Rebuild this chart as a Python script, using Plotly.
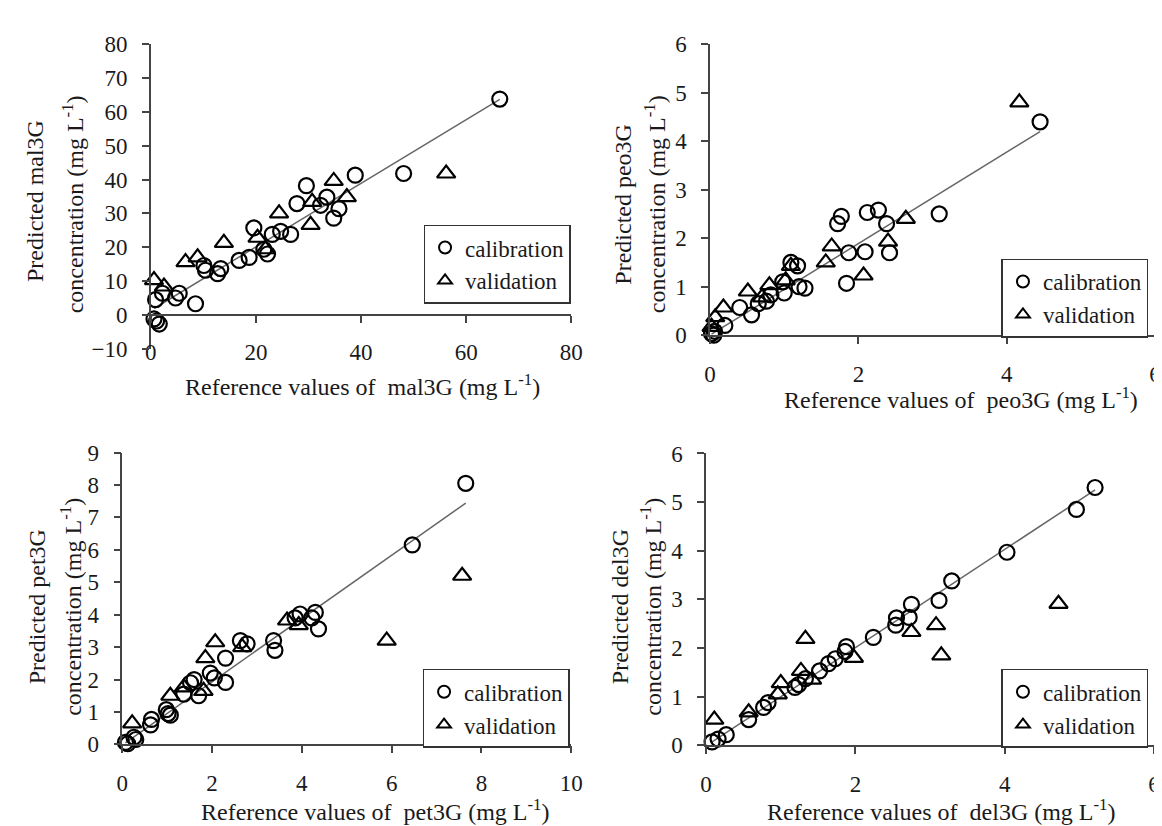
import plotly.graph_objects as go

# ---------------- data ----------------
# Panel 1: mal3G
mal_cal_x = [0.6, 1.6, 1.1, 0.9, 2.2, 4.7, 5.4, 8.5, 10.1, 10.4, 12.7, 13.3, 16.8, 18.7, 19.6, 21.5, 22.2,
             23.1, 24.7, 26.6, 27.8, 29.6, 32.3, 33.5, 35.8, 34.8, 38.9, 48.1, 66.4]
mal_cal_y = [-1.2, -2.7, -1.8, 4.5, 6.4, 5.0, 6.4, 3.3, 14.6, 13.2, 12.2, 13.7, 16.1, 17.0, 25.7, 19.4, 18.0,
             23.8, 24.7, 23.8, 32.9, 38.2, 32.4, 34.8, 31.4, 28.6, 41.3, 41.8, 63.8]
mal_val_x = [0.6, 2.5, 6.6, 8.9, 13.9, 20.3, 21.8, 24.4, 30.4, 30.7, 34.8, 37.3, 56.2]
mal_val_y = [10.3, 8.4, 15.6, 17.0, 21.3, 22.8, 19.4, 30.0, 26.6, 33.4, 39.6, 34.8, 41.8]
mal_fit_x = [0.6, 66.4]
mal_fit_y = [1.9, 63.7]

# Panel 2: peo3G
peo_cal_x = [0.02, 0.05, 0.06, 0.2, 0.4, 0.56, 0.65, 0.76, 0.82, 0.98, 1.0, 1.09, 1.18, 1.2, 1.28,
             1.72, 1.77, 1.84, 1.87, 2.09, 2.12, 2.27, 2.38, 2.42, 3.09, 4.45]
peo_cal_y = [0.03, 0.0, 0.08, 0.2, 0.57, 0.42, 0.65, 0.7, 0.83, 1.1, 0.87, 1.5, 1.43, 1.0, 0.97,
             2.3, 2.45, 1.07, 1.7, 1.72, 2.53, 2.58, 2.3, 1.7, 2.5, 4.4]
peo_val_x = [0.02, 0.07, 0.18, 0.51, 0.7, 0.8, 1.02, 1.09, 1.56, 1.64, 2.07, 2.4, 2.64, 4.17]
peo_val_y = [0.17, 0.37, 0.57, 0.9, 0.78, 1.03, 1.13, 1.43, 1.5, 1.83, 1.23, 1.93, 2.4, 4.8]
peo_fit_x = [0.02, 4.45]
peo_fit_y = [0.02, 4.2]

# Panel 3: pet3G
pet_cal_x = [0.07, 0.12, 0.26, 0.3, 0.63, 0.65, 0.98, 1.02, 1.07, 1.37, 1.52, 1.6, 1.7, 1.96, 2.05, 2.3, 2.3,
             2.63, 2.78, 3.37, 3.4, 3.85, 3.96, 4.22, 4.3, 4.37, 6.46, 7.65]
pet_cal_y = [0.06, 0.02, 0.22, 0.15, 0.6, 0.77, 1.07, 0.95, 0.9, 1.55, 1.9, 2.0, 1.5, 2.2, 2.05, 2.66, 1.91,
             3.2, 3.1, 3.2, 2.9, 3.9, 4.02, 3.9, 4.07, 3.56, 6.15, 8.05]
pet_val_x = [0.22, 1.07, 1.37, 1.81, 1.85, 2.07, 2.67, 3.67, 3.93, 5.89, 7.57]
pet_val_y = [0.65, 1.5, 1.76, 1.65, 2.66, 3.15, 3.0, 3.82, 3.68, 3.2, 5.2]
pet_fit_x = [0.07, 7.65]
pet_fit_y = [0.05, 7.44]

# Panel 4: del3G
del_cal_x = [0.08, 0.16, 0.27, 0.57, 0.77, 0.83, 1.19, 1.24, 1.33, 1.52, 1.64, 1.73, 1.86, 1.88, 2.24,
             2.54, 2.55, 2.72, 2.75, 3.12, 3.29, 4.03, 4.96, 5.21]
del_cal_y = [0.07, 0.13, 0.22, 0.53, 0.78, 0.88, 1.19, 1.25, 1.37, 1.53, 1.68, 1.78, 1.93, 2.03, 2.22,
             2.47, 2.62, 2.63, 2.9, 2.98, 3.38, 3.97, 4.85, 5.3]
del_val_x = [0.11, 0.57, 0.96, 1.0, 1.27, 1.33, 1.42, 1.98, 2.75, 3.08, 3.15, 4.72]
del_val_y = [0.53, 0.68, 1.05, 1.28, 1.53, 2.19, 1.35, 1.8, 2.33, 2.47, 1.85, 2.91]
del_fit_x = [0.08, 5.21]
del_fit_y = [0.07, 5.25]

compounds = ["mal3G", "peo3G", "pet3G", "del3G"]
x_ranges = [[0, 80], [0, 6], [0, 10], [0, 6]]
y_ranges = [[-10, 80], [0, 6], [0, 9], [0, 6]]
x_dticks = [20, 2, 2, 2]
y_dticks = [10, 1, 1, 1]
legend_labels = ["calibration", "validation"]

panels = [
    (mal_cal_x, mal_cal_y, mal_val_x, mal_val_y, mal_fit_x, mal_fit_y),
    (peo_cal_x, peo_cal_y, peo_val_x, peo_val_y, peo_fit_x, peo_fit_y),
    (pet_cal_x, pet_cal_y, pet_val_x, pet_val_y, pet_fit_x, pet_fit_y),
    (del_cal_x, del_cal_y, del_val_x, del_val_y, del_fit_x, del_fit_y),
]

# ---------------- layout geometry (pixels) ----------------
W, H = 1162, 826
# (left, right, top, bottom) of each plot area in pixels
boxes = [(139, 566, 25, 339), (707, 1159, 25, 325), (110, 566, 446, 747), (703, 1158, 447, 748)]
legend_pos = [(416, 211), (1003, 246), (415, 669), (1003, 669)]
ytitle1_pos = [(22, 187), (619, 190), (23, 605), (615, 605)]
ytitle2_pos = [(60, 190), (651, 190), (58, 605), (647, 605)]
xtitle_pos = [(354, 376), (962, 390), (367, 815), (942, 815)]

FONT = "Liberation Serif, Times New Roman, Times, serif"
TXT = "#1a1a1a"

fig = go.Figure()
layout = dict(
    width=W, height=H, margin=dict(l=0, r=0, t=0, b=0),
    paper_bgcolor="white", plot_bgcolor="white",
    font=dict(family=FONT, size=22, color=TXT),
    showlegend=True,
)
annotations = []

for i, (cx, cy, vx, vy, fx, fy) in enumerate(panels):
    n = "" if i == 0 else str(i + 1)
    xa, ya = "x" + n, "y" + n
    lg = "legend" + n
    l, r, t, b = boxes[i]
    dom_x = [l / W, r / W]
    dom_y = [1 - b / H, 1 - t / H]

    fig.add_trace(go.Scatter(x=fx, y=fy, mode="lines", xaxis=xa, yaxis=ya,
                             line=dict(color="#666666", width=1.5), showlegend=False,
                             cliponaxis=False, hoverinfo="skip"))
    fig.add_trace(go.Scatter(x=cx, y=cy, mode="markers", xaxis=xa, yaxis=ya, name=legend_labels[0],
                             legend=lg, cliponaxis=False,
                             marker=dict(symbol="circle-open", size=15, color="black",
                                         line=dict(width=2.2, color="black"))))
    fig.add_trace(go.Scatter(x=vx, y=vy, mode="markers", xaxis=xa, yaxis=ya, name=legend_labels[1],
                             legend=lg, cliponaxis=False,
                             marker=dict(symbol="triangle-up-open", size=16, color="black",
                                         line=dict(width=2.2, color="black"))))

    xr, yr = x_ranges[i], y_ranges[i]
    xaxis = dict(domain=dom_x, range=xr, dtick=x_dticks[i], tick0=0, showgrid=False, zeroline=False,
                 showline=True, linecolor="#444444", linewidth=1.5, ticks="outside", ticklen=7,
                 tickcolor="#444444", tickwidth=1.5, ticklabelstandoff=10,
                 tickfont=dict(family=FONT, size=23, color=TXT), fixedrange=True)
    if yr[0] < 0:
        # x axis crosses the y axis at y = 0
        frac = (0 - yr[0]) / (yr[1] - yr[0])
        xaxis.update(anchor="free", position=dom_y[0] + frac * (dom_y[1] - dom_y[0]))
    else:
        xaxis.update(anchor=ya)
    yaxis = dict(domain=dom_y, range=yr, dtick=y_dticks[i], tick0=0, showgrid=False, zeroline=False,
                 showline=True, linecolor="#444444", linewidth=1.5, ticks="outside", ticklen=7,
                 tickcolor="#444444", tickwidth=1.5, ticklabelstandoff=10, anchor=xa,
                 tickfont=dict(family=FONT, size=23, color=TXT), fixedrange=True)
    layout["xaxis" + n] = xaxis
    layout["yaxis" + n] = yaxis

    lx, ly = legend_pos[i]
    layout[lg] = dict(x=lx / W, y=1 - ly / H, xanchor="left", yanchor="top",
                      bordercolor="#333333", borderwidth=1.5, bgcolor="white",
                      font=dict(family=FONT, size=23, color=TXT), itemsizing="constant",
                      itemwidth=30, tracegroupgap=0)

    comp = compounds[i]
    px, py = ytitle1_pos[i]
    annotations.append(dict(text="Predicted " + comp, x=px / W, y=1 - py / H, xref="paper", yref="paper",
                            textangle=-90, showarrow=False, font=dict(family=FONT, size=24, color=TXT),
                            xanchor="center", yanchor="middle"))
    px, py = ytitle2_pos[i]
    annotations.append(dict(text="concentration (mg L<sup>-1</sup>)", x=px / W, y=1 - py / H,
                            xref="paper", yref="paper", textangle=-90, showarrow=False,
                            font=dict(family=FONT, size=24, color=TXT), xanchor="center", yanchor="middle"))
    px, py = xtitle_pos[i]
    annotations.append(dict(text="Reference values of  " + comp + " (mg L<sup>-1</sup>)", x=px / W,
                            y=1 - py / H, xref="paper", yref="paper", showarrow=False,
                            font=dict(family=FONT, size=24, color=TXT), xanchor="center", yanchor="middle"))

layout["annotations"] = annotations
fig.update_layout(**layout)
fig.write_html("out.html")
